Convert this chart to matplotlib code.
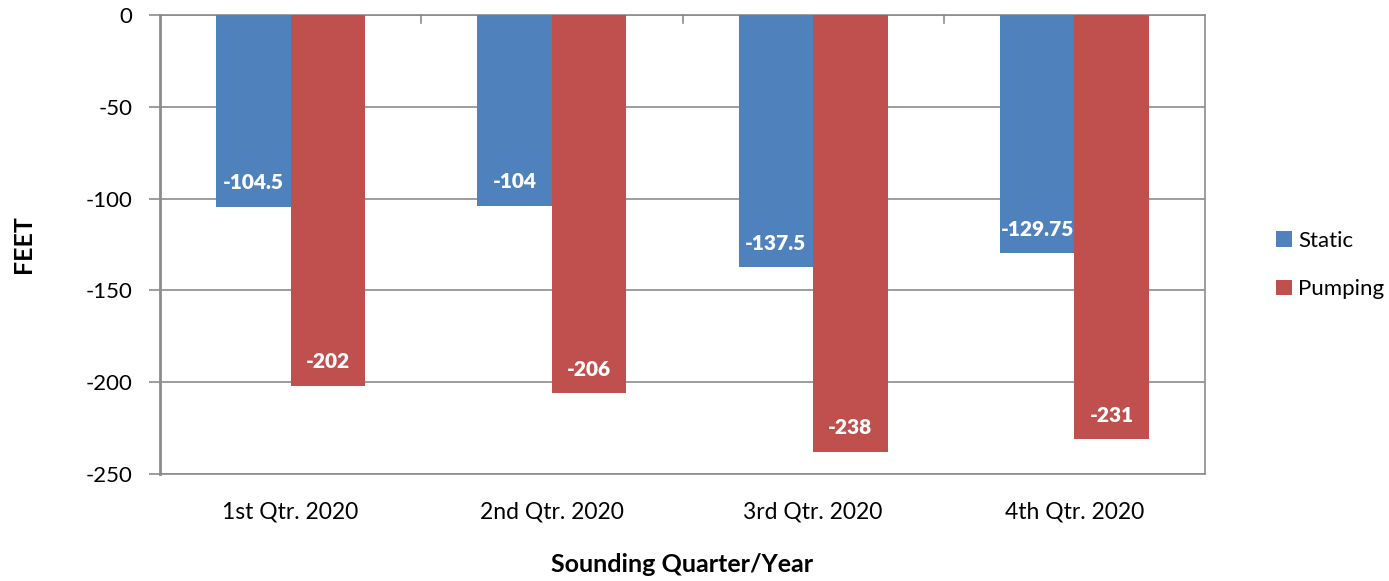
import matplotlib
matplotlib.use("Agg")
import matplotlib.pyplot as plt
import numpy as np

categories = ["1st Qtr. 2020", "2nd Qtr. 2020", "3rd Qtr. 2020", "4th Qtr. 2020"]
static = [-104.5, -104, -137.5, -129.75]
pumping = [-202, -206, -238, -231]
static_labels = ["-104.5", "-104", "-137.5", "-129.75"]
pumping_labels = ["-202", "-206", "-238", "-231"]
yticks = [0, -50, -100, -150, -200, -250]

plt.rcParams['font.family'] = ['Lato', 'DejaVu Sans']

fig = plt.figure(figsize=(13.89, 5.81), dpi=100)
ax = fig.add_axes([160/1389, 1-474/581, (1205-160)/1389, (474-15)/581])

blue = "#4F81BD"
red = "#C0504D"
grid = "#8C8C8C"

x = np.arange(len(categories))
w = 0.285
b1 = ax.bar(x - w/2, static, w, color=blue, label="Static", zorder=3)
b2 = ax.bar(x + w/2, pumping, w, color=red, label="Pumping", zorder=3)

for rect, lab in zip(b1, static_labels):
    ax.annotate(lab, (rect.get_x() + rect.get_width()/2, rect.get_height()),
                xytext=(0, 24), textcoords="offset pixels", ha="center", va="center",
                color="white", fontweight="heavy", fontsize=15, zorder=4)
for rect, lab in zip(b2, pumping_labels):
    ax.annotate(lab, (rect.get_x() + rect.get_width()/2, rect.get_height()),
                xytext=(0, 24), textcoords="offset pixels", ha="center", va="center",
                color="white", fontweight="heavy", fontsize=15, zorder=4)

ax.set_xlim(-0.5, len(categories) - 0.5)
ax.set_ylim(-250, 0)
ax.set_yticks(yticks)
ax.set_yticklabels([str(v) for v in yticks], fontsize=16)
ax.yaxis.grid(True, color=grid, linewidth=1.2, zorder=0)
ax.set_axisbelow(True)
ax.tick_params(axis="y", length=8, width=1.2, color=grid, pad=12)

# category boundary ticks at top (value axis crossing at 0)
ax.set_xticks(x)
ax.set_xticklabels(categories, fontsize=16.5)
ax.tick_params(axis="x", length=0, pad=20)
for b in np.arange(0.5, len(categories) - 0.5, 1.0):
    ax.plot([b, b], [0, -4.5], color=grid, linewidth=1.2, zorder=2, clip_on=False)

for s in ax.spines.values():
    s.set_color(grid)
    s.set_linewidth(1.2)
ax.spines["left"].set_linewidth(2)

ax.set_ylabel("FEET", fontsize=18, fontweight="bold", labelpad=36)
ax.set_xlabel("Sounding Quarter/Year", fontsize=18, fontweight="bold", labelpad=22)

leg = fig.legend(handles=[b1, b2], labels=["Static", "Pumping"],
                 loc="center left", bbox_to_anchor=(1276/1389, 1-265/581),
                 frameon=False, fontsize=16, handlelength=0.7, handleheight=0.7,
                 handletextpad=0.3, labelspacing=1.3, borderpad=0, borderaxespad=0)

fig.savefig("out.png", dpi=100)
